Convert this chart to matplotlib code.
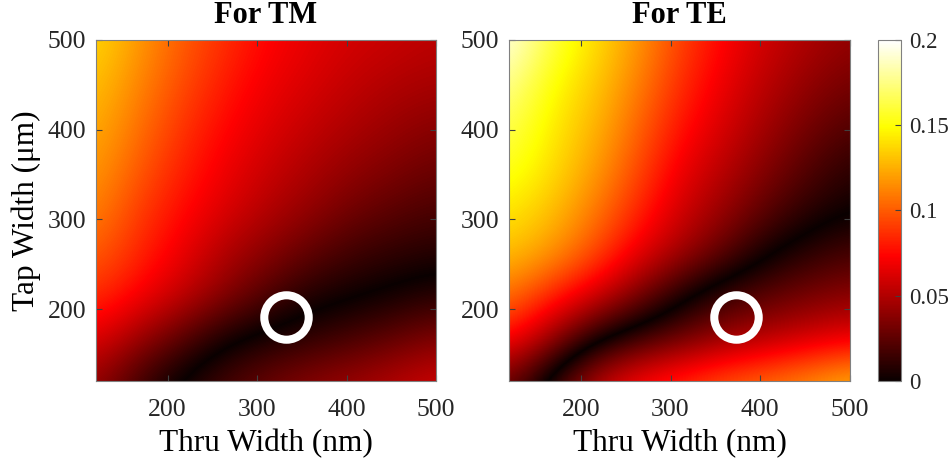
import numpy as np
import matplotlib
matplotlib.use("Agg")
import matplotlib.pyplot as plt
from matplotlib.colors import ListedColormap, Normalize
from matplotlib.cm import ScalarMappable

plt.rcParams["font.family"] = ["Liberation Serif", "DejaVu Serif"]

# grid of sample points (nm for thru width, um for tap width)
thru_width = [120, 167.5, 215, 262.5, 310, 357.5, 405, 452.5, 500]
tap_width = [500, 452.5, 405, 357.5, 310, 262.5, 215, 167.5, 120]

# values, rows from top (tap 500) to bottom (tap 120).
# sign marks the side of the dark valley (the map shows the magnitude)
tm_vals = [
    [0.138, 0.119, 0.101, 0.087, 0.074, 0.066, 0.060, 0.057, 0.053],
    [0.131, 0.113, 0.096, 0.081, 0.069, 0.062, 0.055, 0.050, 0.047],
    [0.125, 0.107, 0.089, 0.075, 0.064, 0.056, 0.049, 0.043, 0.038],
    [0.119, 0.100, 0.083, 0.069, 0.058, 0.049, 0.041, 0.035, 0.029],
    [0.112, 0.091, 0.076, 0.063, 0.051, 0.041, 0.031, 0.024, 0.019],
    [0.101, 0.084, 0.068, 0.050, 0.038, 0.026, 0.016, 0.011, 0.008],
    [0.087, 0.072, 0.056, 0.038, 0.021, 0.007, 0.002, -0.003, -0.009],
    [0.065, 0.044, 0.024, 0.004, -0.005, -0.011, -0.018, -0.026, -0.035],
    [0.041, 0.015, -0.004, -0.018, -0.029, -0.038, -0.044, -0.051, -0.059],
]
te_vals = [
    [0.196, 0.162, 0.140, 0.119, 0.093, 0.074, 0.059, 0.049, 0.041],
    [0.179, 0.150, 0.134, 0.112, 0.087, 0.068, 0.053, 0.041, 0.032],
    [0.166, 0.144, 0.128, 0.104, 0.079, 0.062, 0.046, 0.032, 0.022],
    [0.156, 0.140, 0.121, 0.096, 0.069, 0.053, 0.037, 0.022, 0.010],
    [0.143, 0.131, 0.110, 0.085, 0.060, 0.043, 0.025, 0.010, 0.001],
    [0.131, 0.118, 0.096, 0.068, 0.047, 0.026, 0.003, -0.010, -0.018],
    [0.107, 0.084, 0.062, 0.035, 0.006, -0.015, -0.024, -0.032, -0.038],
    [0.078, 0.044, 0.006, -0.014, -0.028, -0.041, -0.050, -0.059, -0.066],
    [0.028, -0.012, -0.053, -0.075, -0.087, -0.099, -0.107, -0.116, -0.128],
]

# chosen design points (circles)
tm_point = (332, 191)
te_point = (373, 191)

ticks = [200, 300, 400, 500]
cbar_ticks = [0, 0.05, 0.1, 0.15, 0.2]
cbar_labels = ["0", "0.05", "0.1", "0.15", "0.2"]
vmax = 0.2

# hot colormap mirrored, so signed data shows |value| with hot
hot = plt.get_cmap("hot")
sym_cmap = ListedColormap(hot(np.abs(np.linspace(-1, 1, 1023))))

fig = plt.figure(figsize=(9.51, 4.61), dpi=100)
ax1 = fig.add_axes([96 / 951, 80 / 461, 340 / 951, 341 / 461])
ax2 = fig.add_axes([509 / 951, 80 / 461, 341 / 951, 341 / 461])
cax = fig.add_axes([878 / 951, 80 / 461, 23 / 951, 341 / 461])

dx = (thru_width[1] - thru_width[0]) / 2
dy = (tap_width[0] - tap_width[1]) / 2
ext = [thru_width[0] - dx, thru_width[-1] + dx, tap_width[-1] - dy, tap_width[0] + dy]

edge = "#808080"
for ax, vals, pt, title in [(ax1, tm_vals, tm_point, "For TM"),
                            (ax2, te_vals, te_point, "For TE")]:
    ax.imshow(np.array(vals), cmap=sym_cmap, vmin=-vmax, vmax=vmax,
              extent=ext, origin="upper", aspect="auto",
              interpolation="bicubic", interpolation_stage="data")
    ax.plot(pt[0], pt[1], "o", ms=32, mfc="none", mec="white", mew=5.8)
    ax.set_xlim(120, 500)
    ax.set_ylim(120, 500)
    ax.set_xticks(ticks)
    ax.set_yticks(ticks)
    ax.tick_params(direction="in", length=4, width=0.8, color="#404040",
                   labelsize=18.5, labelcolor="#262626", top=True, right=True)
    ax.tick_params(axis="x", pad=13)
    ax.tick_params(axis="y", pad=7)
    for s in ax.spines.values():
        s.set_color(edge)
        s.set_linewidth(0.8)
    ax.set_title(title, fontsize=22, fontweight="bold", pad=12)
    ax.set_xlabel("Thru Width (nm)", fontsize=22.5, labelpad=6)

ax1.set_ylabel("Tap Width (\u03bcm)", fontsize=22.5, labelpad=5)

sm = ScalarMappable(norm=Normalize(0, vmax), cmap=hot)
cb = fig.colorbar(sm, cax=cax, ticks=cbar_ticks)
cb.ax.set_yticklabels(cbar_labels)
cb.ax.tick_params(direction="in", length=4, color="#404040", labelsize=16.5,
                  labelcolor="#262626", pad=6)
cb.outline.set_edgecolor(edge)
cb.outline.set_linewidth(0.8)

fig.savefig("out.png", dpi=100)
